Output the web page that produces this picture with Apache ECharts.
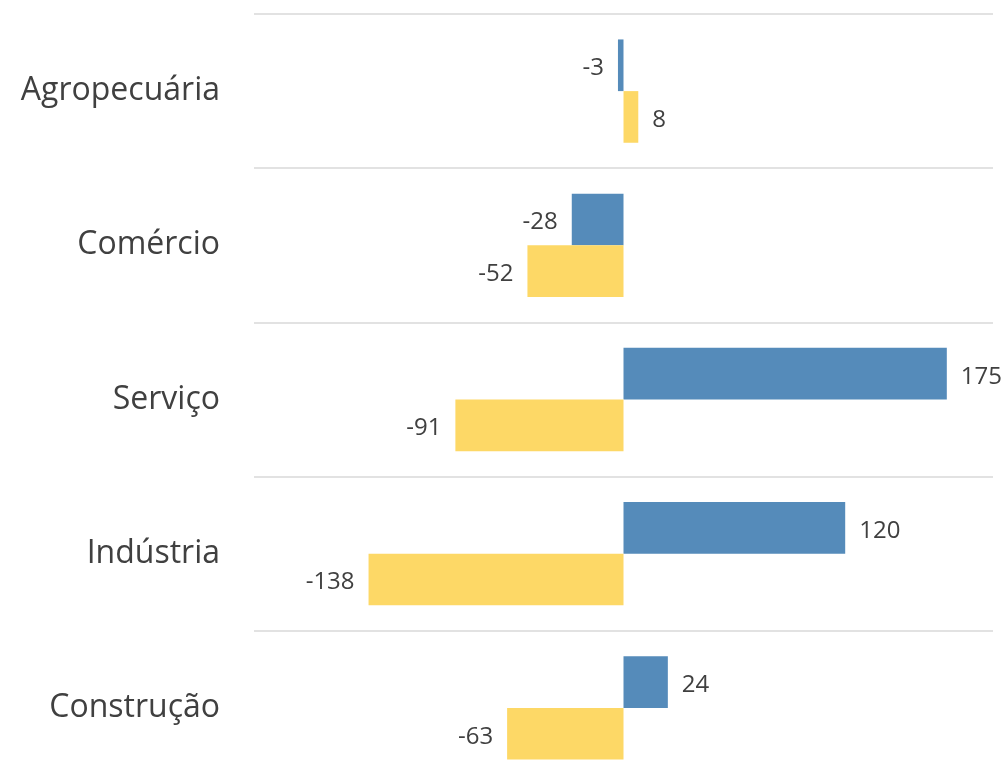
<!DOCTYPE html>
<html>
<head>
<meta charset="utf-8">
<script src="https://cdn.jsdelivr.net/npm/echarts@6/dist/echarts.min.js"></script>
<style>
  html, body { margin: 0; padding: 0; background: #ffffff; }
  #chart { width: 1005px; height: 779px; }
</style>
</head>
<body>
<div id="chart"></div>
<script>
// Sectors, top to bottom
const categories = ['Agropecuária', 'Comércio', 'Serviço', 'Indústria', 'Construção'];
// Net balance per sector, two periods
const seriesBlue = [-3, -28, 175, 120, 24];
const seriesYellow = [8, -52, -91, -138, -63];

const LABEL_FONT = '"Open Sans", "Noto Sans", sans-serif';

// Labels sit just past the end of each bar, on whichever side it grows
function withLabels(values) {
  return values.map(v => ({
    value: v,
    label: { position: v < 0 ? 'left' : 'right' }
  }));
}

const barLabel = {
  show: true,
  distance: 14,
  offset: [0, 3],
  color: '#404040',
  fontSize: 24,
  fontFamily: LABEL_FONT
};

const chart = echarts.init(document.getElementById('chart'), null, { renderer: 'canvas' });

chart.setOption({
  animation: false,
  backgroundColor: '#ffffff',
  // the last category band runs slightly past the bottom edge
  grid: {
    left: 254, right: 12, top: 14, height: 771,
    containLabel: false,
    outerBoundsMode: 'none'
  },
  xAxis: {
    type: 'value',
    min: -200,
    max: 200,
    axisLine: { show: false },
    axisTick: { show: false },
    axisLabel: { show: false },
    splitLine: { show: false }
  },
  yAxis: {
    type: 'category',
    data: categories,
    inverse: true,
    axisLine: { show: false },
    axisTick: { show: false },
    axisLabel: {
      margin: 34,
      color: '#404040',
      fontSize: 32,
      fontFamily: LABEL_FONT
    },
    splitLine: { show: true, lineStyle: { color: '#d9d9d9', width: 1.5 } }
  },
  series: [
    {
      type: 'bar',
      data: withLabels(seriesBlue),
      itemStyle: { color: '#558bba' },
      barGap: '0%',
      barCategoryGap: '33%',
      label: barLabel
    },
    {
      type: 'bar',
      data: withLabels(seriesYellow),
      itemStyle: { color: '#fdd866' },
      barGap: '0%',
      barCategoryGap: '33%',
      label: barLabel
    }
  ]
});
</script>
</body>
</html>
